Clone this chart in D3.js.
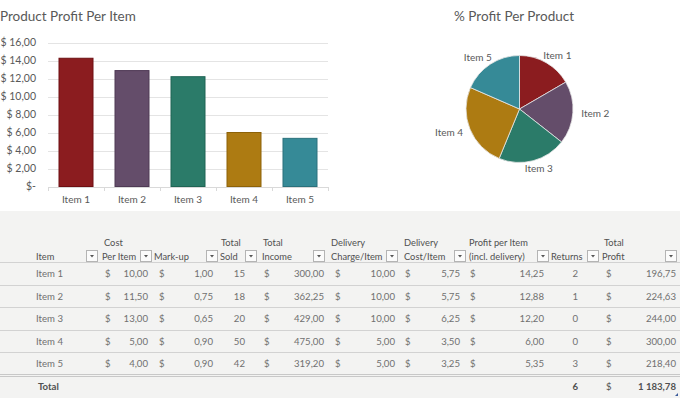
<!DOCTYPE html>
<html><head><meta charset="utf-8">
<script src="https://cdn.jsdelivr.net/npm/d3@7"></script>
<style>html,body{margin:0;padding:0;background:#fff;}svg{display:block;}</style>
</head><body>
<svg id="c" width="680" height="398"></svg>
<script>
const items = ["Item 1","Item 2","Item 3","Item 4","Item 5"];
const costPerItem = [10.00, 11.50, 13.00, 5.00, 4.00];
const markup = [1.00, 0.75, 0.65, 0.90, 0.90];
const totalSold = [15, 18, 20, 50, 42];
const totalIncome = [300.00, 362.25, 429.00, 475.00, 319.20];
const deliveryCharge = [10.00, 10.00, 10.00, 5.00, 5.00];
const deliveryCost = [5.75, 5.75, 6.25, 3.50, 3.25];
const profitPerItem = [14.25, 12.88, 12.20, 6.00, 5.35];
const returns = [2, 1, 0, 0, 3];
const totalProfit = [196.75, 224.63, 244.00, 300.00, 218.40];
const totalReturns = 6;
const grandTotalProfit = 1183.78;
const yTicks = [0, 2, 4, 6, 8, 10, 12, 14, 16];
const colors = ["#8b1c1f", "#644d6a", "#2b7b69", "#ad7b12", "#368a97"];
const strokes = ["#6e0f12", "#4f3a55", "#1f6454", "#8d6208", "#2a717c"];

const loc = d3.formatLocale({decimal: ",", thousands: "\u00a0", grouping: [3], currency: ["$", ""]});
const f2 = loc.format(",.2f");
const tickFmt = v => v === 0 ? "$-" : "$ " + f2(v);

const svg = d3.select("#c");
const FONT = "Lato, 'Open Sans', sans-serif";

// backgrounds
svg.append("rect").attr("x",0).attr("y",0).attr("width",680).attr("height",211).attr("fill","#ffffff");
svg.append("rect").attr("x",0).attr("y",211).attr("width",680).attr("height",187).attr("fill","#f3f3f2");

// ---------- Bar chart ----------
const x = d3.scaleBand().domain(items).range([48, 328]).paddingInner(0.375).paddingOuter(0.1875);
const y = d3.scaleLinear().domain([0, 16]).range([186.5, 42.5]);

svg.append("text").attr("x", 0).attr("y", 21).attr("fill", "#595959")
  .attr("font-family", FONT).attr("font-size", 13.5).text("Product Profit Per Item");

const g = svg.append("g");
g.selectAll("line.grid").data(yTicks.filter(d => d > 0)).join("line")
  .attr("x1", 48).attr("x2", 328).attr("y1", d => Math.round(y(d)) + 0.5).attr("y2", d => Math.round(y(d)) + 0.5)
  .attr("stroke", "#e4e4e4").attr("stroke-width", 1);

const yAxis = d3.axisLeft(y).tickValues(yTicks).tickFormat(tickFmt).tickSize(0).tickPadding(0);
const ya = svg.append("g").attr("transform", "translate(36,0)").call(yAxis);
ya.select(".domain").remove();
ya.selectAll("text").attr("font-family", FONT).attr("font-size", 10.5).attr("fill", "#595959");

g.selectAll("rect.bar").data(items).join("rect")
  .attr("x", d => x(d) + 0.5).attr("width", x.bandwidth() - 1)
  .attr("y", (d, i) => y(profitPerItem[i])).attr("height", (d, i) => y(0) - y(profitPerItem[i]))
  .attr("fill", (d, i) => colors[i]).attr("stroke", (d, i) => strokes[i]).attr("stroke-width", 1);

const xAxis = d3.axisBottom(x).tickSize(0).tickPadding(9);
const xa = svg.append("g").attr("transform", "translate(0,187)").call(xAxis);
xa.select(".domain").attr("stroke", "#d9d9d9");
xa.selectAll("text").attr("font-family", FONT).attr("font-size", 10).attr("fill", "#595959");
const bounds = items.map(d => x(d) - x.step() * x.paddingInner() / 2).concat([328]);
svg.selectAll("line.sep").data(bounds).join("line")
  .attr("x1", d => Math.round(d) + 0.5).attr("x2", d => Math.round(d) + 0.5).attr("y1", 187).attr("y2", 191)
  .attr("stroke", "#d9d9d9");

// ---------- Pie chart ----------
svg.append("text").attr("x", 514).attr("y", 21).attr("text-anchor", "middle").attr("fill", "#595959")
  .attr("font-family", FONT).attr("font-size", 13.5).text("% Profit Per Product");

const pie = d3.pie().sort(null).value(d => d)(totalProfit);
const arc = d3.arc().innerRadius(0).outerRadius(53.5);
const pg = svg.append("g").attr("transform", "translate(519.5,109)");
pg.selectAll("path").data(pie).join("path").attr("d", arc)
  .attr("fill", (d, i) => colors[i]).attr("stroke", "#e6e6e6").attr("stroke-width", 0.8);
const labelPos = d => { const a = (d.startAngle + d.endAngle) / 2; return [Math.sin(a) * 76, -Math.cos(a) * 62]; };
pg.selectAll("text").data(pie).join("text")
  .attr("transform", d => `translate(${labelPos(d)})`)
  .attr("text-anchor", "middle").attr("dy", "0.35em")
  .attr("font-family", FONT).attr("font-size", 10).attr("fill", "#595959")
  .text((d, i) => items[i]);

// ---------- Table ----------
const T = svg.append("g").attr("font-family", FONT).attr("font-size", 9.6);
const hdr1 = [["Cost",104],["Total",221],["Total",263],["Delivery",331],["Delivery",404],["Profit per Item",469],["Total",604]];
const hdr2 = [["Item",36],["Per Item",102],["Mark-up",154],["Sold",220],["Income",262],["Charge/Item",331],["Cost/Item",404],["(incl. delivery)",469],["Returns",551],["Profit",602]];
T.selectAll("text.h1").data(hdr1).join("text").attr("x", d => d[1]).attr("y", 246).attr("font-size", 9.3).attr("fill", "#505050").text(d => d[0]);
T.selectAll("text.h2").data(hdr2).join("text").attr("x", d => d[1]).attr("y", 260).attr("font-size", 9.3).attr("fill", "#505050").text(d => d[0]);
const dd = [86, 140, 206, 245, 313, 386, 454, 537, 587, 665];
const ddg = T.selectAll("g.dd").data(dd).join("g").attr("transform", d => `translate(${d},250)`);
ddg.append("rect").attr("x", 0.5).attr("y", 0.5).attr("width", 11).attr("height", 11).attr("fill", "#fbfbfb").attr("stroke", "#b4b4b4");
ddg.append("path").attr("d", "M4,5 L8,5 L6,7.5 Z").attr("fill", "#555");

const rowY = [262, 285, 307, 330, 352];
svg.selectAll("line.rl").data(rowY).join("line")
  .attr("x1", 0).attr("x2", 680).attr("y1", d => d + 0.5).attr("y2", d => d + 0.5).attr("stroke", "#d2d2d2");
svg.append("line").attr("x1", 0).attr("x2", 680).attr("y1", 374.5).attr("y2", 374.5).attr("stroke", "#c8c8c8");
svg.append("line").attr("x1", 0).attr("x2", 680).attr("y1", 376.5).attr("y2", 376.5).attr("stroke", "#c8c8c8");

const txtY = i => rowY[i] + 15;
const dataCol = "#707070";
const cols = [
  {vals: costPerItem, dollar: 105, right: 148},
  {vals: markup, dollar: 159, right: 213},
  {vals: totalSold, right: 245, int: true},
  {vals: totalIncome, dollar: 264, right: 324},
  {vals: deliveryCharge, dollar: 335, right: 395},
  {vals: deliveryCost, dollar: 405, right: 460},
  {vals: profitPerItem, dollar: 470, right: 544},
  {vals: returns, right: 578, int: true},
  {vals: totalProfit, dollar: 606, right: 676}
];
items.forEach((it, i) => {
  T.append("text").attr("x", 36).attr("y", txtY(i)).attr("fill", dataCol).text(it);
  cols.forEach(c => {
    if (c.dollar !== undefined) T.append("text").attr("x", c.dollar).attr("y", txtY(i)).attr("fill", dataCol).text("$");
    T.append("text").attr("x", c.right).attr("y", txtY(i)).attr("text-anchor", "end").attr("fill", dataCol)
      .text(c.int ? String(c.vals[i]) : f2(c.vals[i]));
  });
});
T.append("text").attr("x", 38).attr("y", 390).attr("font-weight", "bold").attr("fill", "#505050").text("Total");
T.append("text").attr("x", 578).attr("y", 390).attr("text-anchor", "end").attr("font-weight", "bold").attr("fill", "#505050").text(String(totalReturns));
T.append("text").attr("x", 606).attr("y", 390).attr("fill", "#505050").text("$");
T.append("text").attr("x", 676).attr("y", 390).attr("text-anchor", "end").attr("font-weight", "bold").attr("fill", "#505050").text(f2(grandTotalProfit));
svg.append("path").attr("d", "M678,393 L678,396 L675,396 Z").attr("fill", "#3a5a9a");
</script>
</body></html>
